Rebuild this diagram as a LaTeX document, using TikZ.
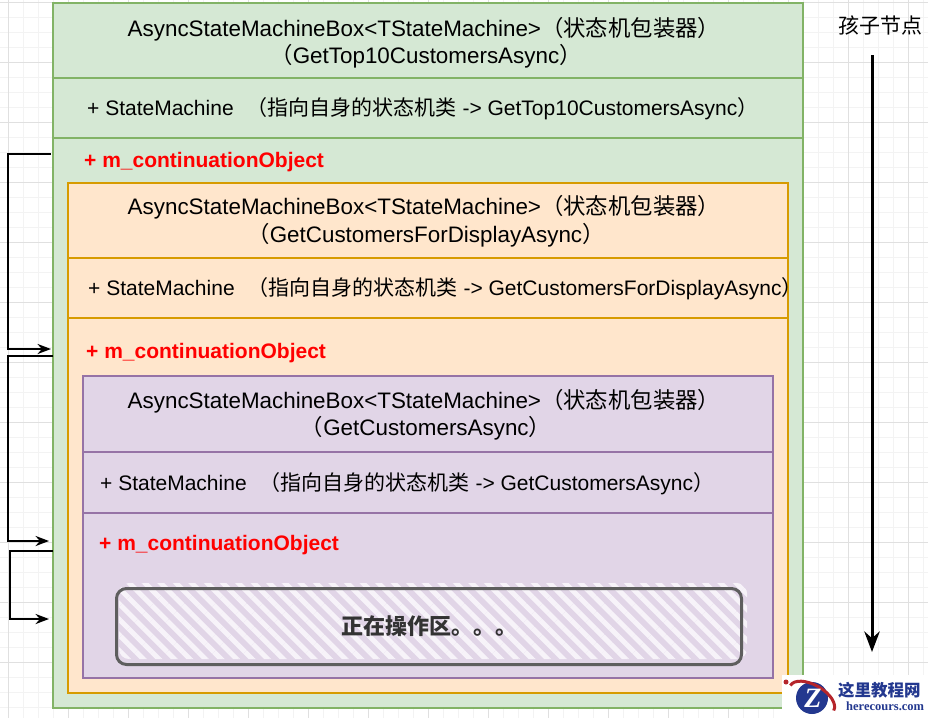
\documentclass[tikz,border=0pt]{standalone}
\usepackage{fontspec}
\setmainfont{Liberation Sans}
\newfontfamily\cjkfont{Noto Sans CJK SC}
\newfontfamily\wmserif{Liberation Serif}
\usetikzlibrary{arrows.meta,patterns.meta}

\newcommand{\zh}[1]{{\cjkfont #1}}

\definecolor{gfill}{HTML}{D5E8D4}
\definecolor{gline}{HTML}{82B366}
\definecolor{ofill}{HTML}{FFE6CC}
\definecolor{oline}{HTML}{D79B00}
\definecolor{pfill}{HTML}{E1D5E7}
\definecolor{pline}{HTML}{9673A6}
\definecolor{hatch}{HTML}{F7F3F9}
\definecolor{workline}{HTML}{5E5E5E}
\definecolor{worktext}{HTML}{333333}
\definecolor{gridminor}{HTML}{F3F3F3}
\definecolor{gridmajor}{HTML}{E0E0E0}
\definecolor{wmblue}{HTML}{23388F}
\definecolor{wmred}{HTML}{B5252B}

\begin{document}
\begin{tikzpicture}[x=1pt,y=-1pt,>={Stealth[length=5.5pt 5]}]
        \tikzstyle{part} = [line width=1.5pt,inner sep=0pt,outer sep=0pt,anchor=north west]
        \tikzstyle{gpart} = [part,draw=gline,fill=gfill]
        \tikzstyle{opart} = [part,draw=oline,fill=ofill]
        \tikzstyle{ppart} = [part,draw=pline,fill=pfill]
        \tikzstyle{titletext} = [font=\fontsize{22.4}{26}\selectfont,anchor=base,inner sep=0pt]
        \tikzstyle{rowtext} = [font=\fontsize{21}{25}\selectfont,anchor=base west,inner sep=0pt]
        \tikzstyle{linktext} = [font=\fontsize{21}{25}\selectfont\bfseries,text=red,anchor=base west,inner sep=0pt]
        \tikzstyle{linkarrow} = [->,line width=1.6pt]

        \useasboundingbox (0,0) rectangle (928,718);
        \fill[white] (0,0) rectangle (928,718);

        % grid
        \foreach \gx in {8,23,...,923} \draw[gridminor,line width=0.8pt] (\gx,0) -- (\gx,718);
        \foreach \gy in {2,17,...,707} \draw[gridminor,line width=0.8pt] (0,\gy) -- (928,\gy);
        \foreach \gx in {8,68,...,908} \draw[gridmajor,line width=0.8pt] (\gx,0) -- (\gx,718);
        \foreach \gy in {2,62,...,662} \draw[gridmajor,line width=0.8pt] (0,\gy) -- (928,\gy);

        % outer box
        \node[gpart,minimum width=750pt,minimum height=75pt] (gHead) at (53,3){};
        \node[gpart,minimum width=750pt,minimum height=60pt] (gRow) at (53,78){};
        \node[gpart,minimum width=750pt,minimum height=570pt] (gBody) at (53,138){};

        % middle box
        \node[opart,minimum width=720pt,minimum height=75pt] (oHead) at (68,183){};
        \node[opart,minimum width=720pt,minimum height=60pt] (oRow) at (68,258){};
        \node[opart,minimum width=720pt,minimum height=375pt] (oBody) at (68,318){};

        % inner box
        \node[ppart,minimum width=690pt,minimum height=76pt] (pHead) at (83,376){};
        \node[ppart,minimum width=690pt,minimum height=61pt] (pRow) at (83,452){};
        \node[ppart,minimum width=690pt,minimum height=165pt] (pBody) at (83,513){};

        \node[titletext] (gT1) at (424,36){AsyncStateMachineBox<TStateMachine>\zh{（状态机包装器）}};
        \node[titletext] (gT2) at (426,63){\zh{（}GetTop10CustomersAsync\zh{）}};
        \node[rowtext] (gR) at (87,115){+ StateMachine\hspace{13pt}\zh{（指向自身的状态机类} -> GetTop10CustomersAsync\zh{）}};
        \node[linktext] (gL) at (84,167){+ m\_continuationObject};

        \node[titletext] (oT1) at (424,214){AsyncStateMachineBox<TStateMachine>\zh{（状态机包装器）}};
        \node[titletext] (oT2) at (426,242){\zh{（}GetCustomersForDisplayAsync\zh{）}};
        \node[rowtext] (oR) at (88,295){+ StateMachine\hspace{13pt}\zh{（指向自身的状态机类} -> GetCustomersForDisplayAsync\zh{）}};
        \node[linktext] (oL) at (86,358){+ m\_continuationObject};

        \node[titletext] (pT1) at (424,408){AsyncStateMachineBox<TStateMachine>\zh{（状态机包装器）}};
        \node[titletext] (pT2) at (426,435){\zh{（}GetCustomersAsync\zh{）}};
        \node[rowtext] (pR) at (100,490){+ StateMachine\hspace{13pt}\zh{（指向自身的状态机类} -> GetCustomersAsync\zh{）}};
        \node[linktext] (pL) at (99,550){+ m\_continuationObject};

        % working area
        \path[pattern={Lines[angle=-45,distance=11pt,line width=5pt]},pattern color=hatch,rounded corners=10pt] (119,583) rectangle (747,659);
        \node[draw=workline,line width=3pt,rounded corners=10pt,anchor=north west,minimum width=625pt,minimum height=76pt,
              text=worktext,font=\cjkfont\bfseries\fontsize{22}{26}\selectfont] (work) at (115,587){正在操作区。。。};

        % links
        \coordinate (outA) at (51,154);
        \coordinate (inA) at (51,349);
        \coordinate (outB) at (53,356);
        \coordinate (inB) at (49,541);
        \coordinate (outC) at (53,551);
        \coordinate (inC) at (49,619);

        \draw[linkarrow] (outA) -- ++(-43,0) |- (inA);
        \draw[linkarrow] (outB) -- ++(-45,0) |- (inB);
        \draw[linkarrow] (outC) -- ++(-43,0) |- (inC);

        % children direction
        \node[font=\cjkfont\fontsize{21}{25}\selectfont] (kidLabel) at (880,25){孩子节点};
        \coordinate (kidTop) at (872,55);
        \coordinate (kidEnd) at (872,652);
        \draw[->,line width=3pt] (kidTop) -- (kidEnd);

        % watermark
        \fill[white] (782,675) rectangle (928,718);
        \fill[wmblue] (812,698) circle[radius=16];
        \draw[wmred,line width=3pt,rotate around={-30:(812,698)}] (787,698) arc[start angle=180,end angle=360,x radius=25,y radius=13];
        \fill[wmred] (786,682) circle[radius=2.5];
        \node[font=\wmserif\bfseries\itshape\fontsize{28}{28}\selectfont,text=white] (wmZ) at (813,698){Z};
        \node[font=\cjkfont\bfseries\fontsize{16.5}{17}\selectfont,text=wmblue,anchor=west,inner sep=0pt] (wmName) at (838,690){这里教程网};
        \node[font=\wmserif\bfseries\fontsize{12.5}{13}\selectfont,text=wmblue,anchor=west,inner sep=0pt] (wmSite) at (846,706){herecours.com};
\end{tikzpicture}
\end{document}
